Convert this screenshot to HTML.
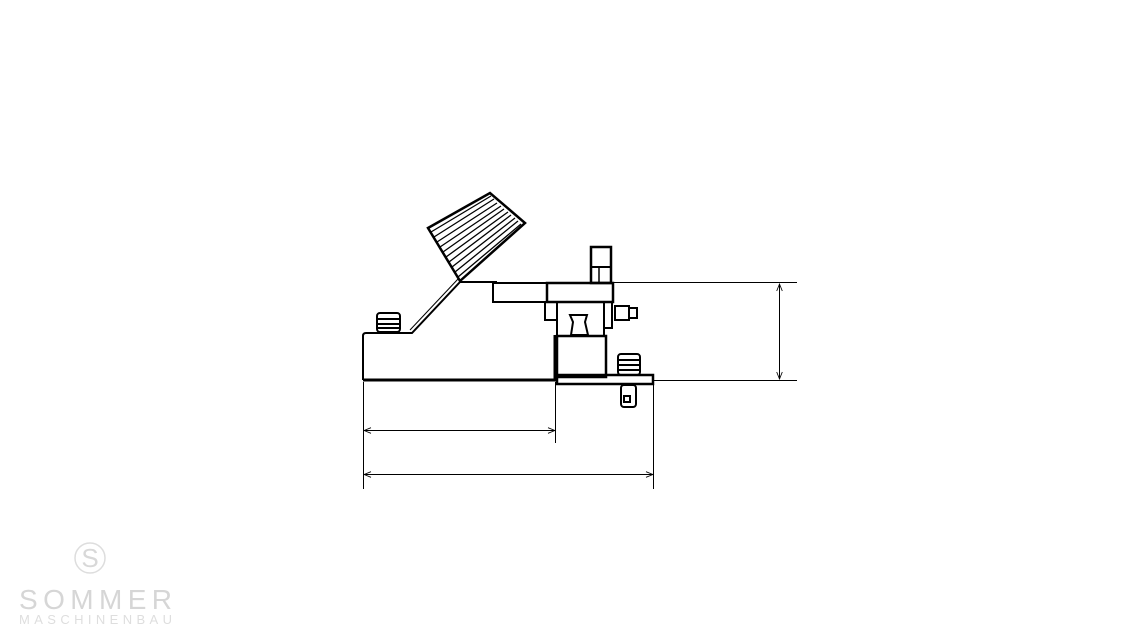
<!DOCTYPE html>
<html><head><meta charset="utf-8"><style>html,body{margin:0;padding:0;background:#fff}svg{display:block}</style></head>
<body>
<svg width="1140" height="640" viewBox="0 0 1140 640" xmlns="http://www.w3.org/2000/svg" fill="none" stroke="#000">
<defs>
<marker id="a" viewBox="0 0 10 10" refX="10" refY="5" markerWidth="9" markerHeight="7" orient="auto-start-reverse" markerUnits="userSpaceOnUse"><path d="M0,1 L10,5 L0,9" fill="none" stroke="#000" stroke-width="1.2"/></marker>
</defs>
<path d="M363,380 L363,336 Q363,333 366,333 L412,333 L460,282 L497,282" stroke-width="2"/>
<path d="M410,330 L458,279" stroke-width="1"/>
<path d="M363,380 L555,380 L555,335" stroke-width="3"/>
<!-- pedal -->
<path d="M428,228 L490,193 L525,223 L460,281 Z" stroke-width="2.5"/>
<g stroke-width="1.3">
<line x1="434" y1="237" x2="494" y2="199"/>
<line x1="437" y1="242" x2="497" y2="203"/>
<line x1="440" y1="247" x2="501" y2="206"/>
<line x1="443" y1="252" x2="504" y2="209"/>
<line x1="446" y1="257" x2="508" y2="212"/>
<line x1="449" y1="262" x2="511" y2="215"/>
<line x1="452" y1="267" x2="515" y2="218"/>
<line x1="455" y1="272" x2="518" y2="221"/>
<line x1="458" y1="277" x2="521" y2="224"/>
<line x1="431" y1="232" x2="491" y2="196"/>
</g>
<rect x="493" y="283" width="54" height="19" stroke-width="2"/>
<rect x="547" y="283" width="66" height="19" stroke-width="2.5"/>
<rect x="591" y="247" width="20" height="36" stroke-width="2.5"/>
<line x1="591" y1="267" x2="611" y2="267" stroke-width="2"/>
<line x1="599" y1="267" x2="599" y2="283" stroke-width="1.5"/>
<rect x="545" y="302" width="12" height="18" stroke-width="2"/>
<rect x="604" y="302" width="8" height="26" stroke-width="2"/>
<path d="M557,302 L557,335 M604,302 L604,335" stroke-width="2"/>
<path d="M570,315 L587,315 L585,322 L588,335 L571,335 L573,322 Z" stroke-width="2"/>
<rect x="615" y="306" width="14" height="14" stroke-width="2"/>
<rect x="629" y="308" width="8" height="10" stroke-width="2"/>
<rect x="557" y="336" width="49" height="41" stroke-width="2.5"/>
<rect x="557" y="375" width="96" height="9" stroke-width="2.5"/>
<g stroke-width="2">
<rect x="377" y="313" width="23" height="19" rx="3"/>
<line x1="377" y1="319" x2="400" y2="319"/><line x1="377" y1="324" x2="400" y2="324"/><line x1="377" y1="328" x2="400" y2="328"/>
<rect x="618" y="354" width="22" height="21" rx="3"/>
<line x1="618" y1="360" x2="640" y2="360"/><line x1="618" y1="365" x2="640" y2="365"/><line x1="618" y1="370" x2="640" y2="370"/>
<rect x="621" y="385" width="15" height="22" rx="3"/>
<rect x="624" y="396" width="6" height="6"/>
</g>
<g stroke-width="1">
<line x1="613" y1="282.5" x2="797" y2="282.5"/>
<line x1="653" y1="380.5" x2="797" y2="380.5"/>
<line x1="779.5" y1="284" x2="779.5" y2="379" marker-start="url(#a)" marker-end="url(#a)"/>
<line x1="363.5" y1="382" x2="363.5" y2="489"/>
<line x1="555.5" y1="382" x2="555.5" y2="443"/>
<line x1="653.5" y1="385" x2="653.5" y2="489"/>
<line x1="364" y1="430.5" x2="555" y2="430.5" marker-start="url(#a)" marker-end="url(#a)"/>
<line x1="364" y1="474.5" x2="653" y2="474.5" marker-start="url(#a)" marker-end="url(#a)"/>
</g>
<circle cx="90" cy="558" r="15" stroke="#ddd" stroke-width="1.5"/>
<text x="90" y="567" text-anchor="middle" font-family="Liberation Sans, sans-serif" font-size="26" fill="#d8d8d8" stroke="none">S</text>
<text x="19" y="609" font-family="Liberation Sans, sans-serif" font-size="28" fill="#d6d6d6" stroke="none" textLength="153" lengthAdjust="spacing">SOMMER</text>
<text x="19" y="624" font-family="Liberation Sans, sans-serif" font-size="13" fill="#dedede" stroke="none" textLength="153" lengthAdjust="spacing">MASCHINENBAU</text>
</svg>
</body></html>
